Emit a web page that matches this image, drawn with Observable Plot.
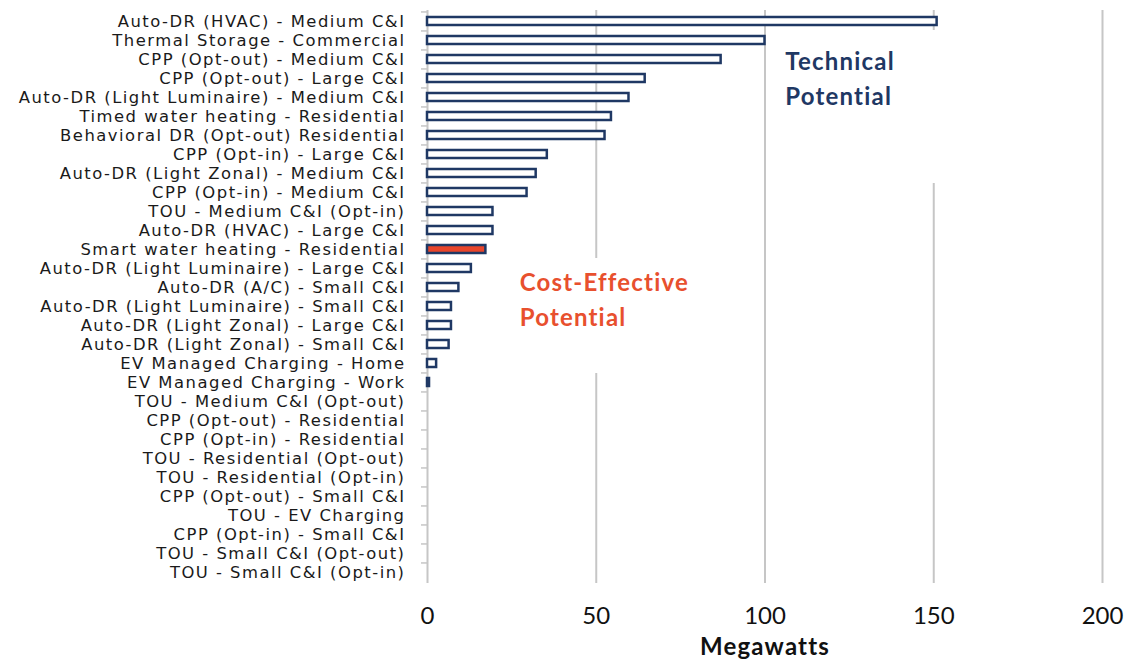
<!DOCTYPE html>
<html>
<head>
<meta charset="utf-8">
<script src="https://cdn.jsdelivr.net/npm/d3@7"></script>
<script src="https://cdn.jsdelivr.net/npm/@observablehq/plot@0.6"></script>
<style>
  html, body { margin: 0; padding: 0; background: #fff; }
  #chart svg { display: block; }
  #chart g[aria-label="y-axis tick label"] text { letter-spacing: 1.5px; }
  #chart g[aria-label="text"] text { letter-spacing: 1.2px; }
</style>
</head>
<body>
<div id="chart"></div>
<script>
const categories = [
  "Auto-DR (HVAC) - Medium C&I",
  "Thermal Storage - Commercial",
  "CPP (Opt-out) - Medium C&I",
  "CPP (Opt-out) - Large C&I",
  "Auto-DR (Light Luminaire) - Medium C&I",
  "Timed water heating - Residential",
  "Behavioral DR (Opt-out) Residential",
  "CPP (Opt-in) - Large C&I",
  "Auto-DR (Light Zonal) - Medium C&I",
  "CPP (Opt-in) - Medium C&I",
  "TOU - Medium C&I (Opt-in)",
  "Auto-DR (HVAC) - Large C&I",
  "Smart water heating - Residential",
  "Auto-DR (Light Luminaire) - Large C&I",
  "Auto-DR (A/C) - Small C&I",
  "Auto-DR (Light Luminaire) - Small C&I",
  "Auto-DR (Light Zonal) - Large C&I",
  "Auto-DR (Light Zonal) - Small C&I",
  "EV Managed Charging - Home",
  "EV Managed Charging - Work",
  "TOU - Medium C&I (Opt-out)",
  "CPP (Opt-out) - Residential",
  "CPP (Opt-in) - Residential",
  "TOU - Residential (Opt-out)",
  "TOU - Residential (Opt-in)",
  "CPP (Opt-out) - Small C&I",
  "TOU - EV Charging",
  "CPP (Opt-in) - Small C&I",
  "TOU - Small C&I (Opt-out)",
  "TOU - Small C&I (Opt-in)"
];
const megawatts = [
  151, 100, 87, 64.5, 59.7, 54.5, 52.6, 35.5, 32.2, 29.5,
  19.4, 19.4, 17.3, 13, 9.3, 7.1, 7.1, 6.4, 2.7, 0.6,
  0, 0, 0, 0, 0, 0, 0, 0, 0, 0
];
const costEffectiveCategories = ["Smart water heating - Residential"];
const xTicks = [0, 50, 100, 150, 200];
const gridTicks = [50, 100, 150, 200];

// annotation text boxes (white background, as in the original chart)
const annotationTexts = ["Technical\nPotential", "Cost-Effective\nPotential"];
const annotationX = [106, 27.3];
const annotationY = ["CPP (Opt-out) - Large C&I", "Auto-DR (Light Luminaire) - Small C&I"];
const annotationColors = ["#1f3864", "#e8502e"];
const annotationDy = [-2.5, -9.5];
const annotationBoxX1 = [102, 23];
const annotationBoxX2 = [170, 78];
const annotationBoxRows = [categories.slice(1, 9), categories.slice(13, 19)];

const rows = categories.map((c, i) => ({
  category: c,
  value: megawatts[i],
  costEffective: costEffectiveCategories.includes(c)
}));
const annotations = annotationTexts.map((t, i) => ({
  text: t, x: annotationX[i], y: annotationY[i], color: annotationColors[i], dy: annotationDy[i]
}));
const boxCells = annotationBoxRows.flatMap((rs, i) =>
  rs.map(r => ({ y: r, x1: annotationBoxX1[i], x2: annotationBoxX2[i] })));

const navy = "#1f3864";
const gridGray = "#c6c6c6";

const chart = Plot.plot({
  width: 1133,
  height: 660,
  marginLeft: 427,
  marginRight: 31,
  marginTop: 10,
  marginBottom: 77,
  style: { fontFamily: "Lato, sans-serif", background: "#fff" },
  x: { domain: [0, 200], ticks: xTicks },
  y: { domain: categories, paddingInner: 0.6, paddingOuter: 0.3, label: null },
  marks: [
    Plot.ruleX(gridTicks, { stroke: gridGray, strokeWidth: 2 }),
    Plot.ruleX([0], { stroke: gridGray, strokeWidth: 2 }),
    Plot.barX(boxCells, { x1: "x1", x2: "x2", y: "y", fill: "white", insetTop: -6, insetBottom: -6 }),
    ...annotations.map(a => Plot.text([a], {
      x: "x", y: "y", text: "text", fill: a.color,
      textAnchor: "start", lineAnchor: "middle", lineHeight: 1.46,
      fontSize: 24, fontWeight: "bold", dy: a.dy
    })),
    Plot.barX(rows.filter(d => d.value > 0), {
      x: "value", y: "category",
      fill: d => d.costEffective ? "#e8452b" : "white",
      stroke: navy, strokeWidth: 2.5
    }),
    Plot.axisY({ tickSize: 6, text: null, stroke: gridGray, strokeWidth: 1.5, dy: -9.55 }),
    Plot.axisY({ tickSize: 0, tickPadding: 22, fontSize: 16.4, fontFamily: "DejaVu Sans", fill: "#1a1a1a", label: null }),
    Plot.axisX({ ticks: xTicks, tickSize: 0, tickPadding: 23, fontSize: 24, fill: "#111", label: null }),
    Plot.text(["Megawatts"], { frameAnchor: "bottom", dy: 64, fontSize: 24, fontWeight: "bold", fill: "#111", lineAnchor: "middle" })
  ]
});
document.getElementById("chart").appendChild(chart);
</script>
</body>
</html>
